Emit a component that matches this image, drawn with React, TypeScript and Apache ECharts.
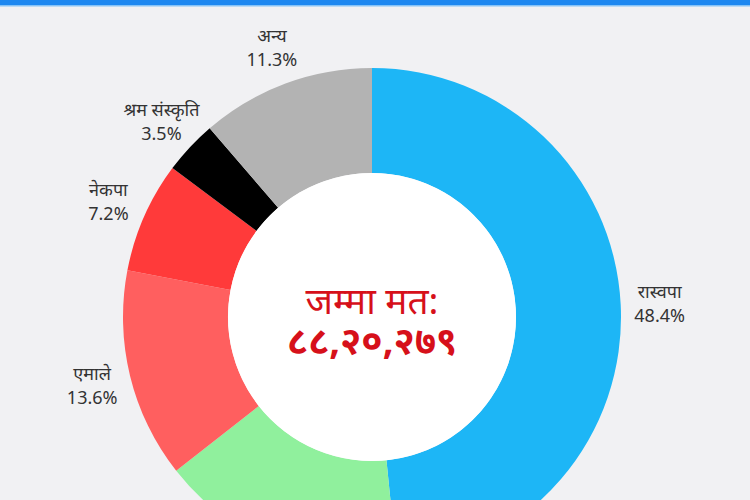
import React, { useEffect, useRef } from "react";
import * as echarts from "echarts";

const parties = ["रास्वपा", "नेपाली कांग्रेस", "एमाले", "नेकपा", "श्रम संस्कृति", "अन्य"];
const shares = [48.4, 16.0, 13.6, 7.2, 3.5, 11.3];
const colors = ["#1db6f6", "#90f09d", "#ff5f5f", "#ff3a3a", "#000000", "#b3b3b3"];
const hiddenLabel = [false, true, false, false, false, false];
const totalLabel = "जम्मा मत:";
const totalValue = "८८,२०,२७९";

const FONT = "'Noto Sans', 'Noto Sans Devanagari', 'Lohit Devanagari', sans-serif";

export default function App() {
  const ref = useRef<HTMLDivElement>(null);
  useEffect(() => {
    if (!ref.current) return;
    const chart = echarts.init(ref.current, undefined, { renderer: "svg" });
    const data = parties.map((p, i) => ({
      name: p,
      value: shares[i],
      itemStyle: { color: colors[i] },
    }));
    const labelData = parties.map((p, i) => ({
      name: p,
      value: shares[i],
      itemStyle: { color: "rgba(0,0,0,0)" },
      label: { show: !hiddenLabel[i] },
    }));
    chart.setOption({
      animation: false,
      backgroundColor: "#f1f1f3",
      graphic: [
        { type: "rect", left: 0, top: 0, shape: { width: 750, height: 5 }, style: { fill: "#1e88f0" }, z: 10 },
        { type: "rect", left: 0, top: 5, shape: { width: 750, height: 1.5 }, style: { fill: "#86c3f7" }, z: 10 },
        { type: "circle", shape: { cx: 372, cy: 317, r: 144 }, style: { fill: "#ffffff" }, z: 5 },
        {
          type: "text",
          x: 372,
          y: 299,
          z: 20,
          style: {
            text: totalLabel,
            fill: "#d6101a",
            font: `400 37px ${FONT}`,
            textAlign: "center",
            textVerticalAlign: "middle",
          },
        },
        {
          type: "text",
          x: 372,
          y: 339,
          z: 20,
          style: {
            text: totalValue,
            fill: "#d6101a",
            font: `700 38px ${FONT}`,
            textAlign: "center",
            textVerticalAlign: "middle",
          },
        },
      ],
      series: [
        {
          type: "pie",
          center: [372, 317],
          radius: [144, 249],
          startAngle: 90,
          clockwise: true,
          silent: true,
          label: { show: false },
          labelLine: { show: false },
          itemStyle: { borderWidth: 0 },
          data,
        },
        {
          type: "pie",
          center: [372, 317],
          radius: [270, 300],
          startAngle: 90,
          clockwise: true,
          silent: true,
          label: {
            show: true,
            position: "inside",
            formatter: (p: any) => `${p.name}\n${p.value.toFixed(1)}%`,
            color: "#333333",
            fontSize: 18,
            lineHeight: 24,
            fontFamily: FONT,
            align: "center",
          },
          labelLine: { show: false },
          itemStyle: { borderWidth: 0 },
          data: labelData,
        },
      ],
    });
    return () => chart.dispose();
  }, []);
  return (
    <div
      ref={ref}
      style={{ position: "fixed", left: 0, top: 0, width: 750, height: 500 }}
    />
  );
}
